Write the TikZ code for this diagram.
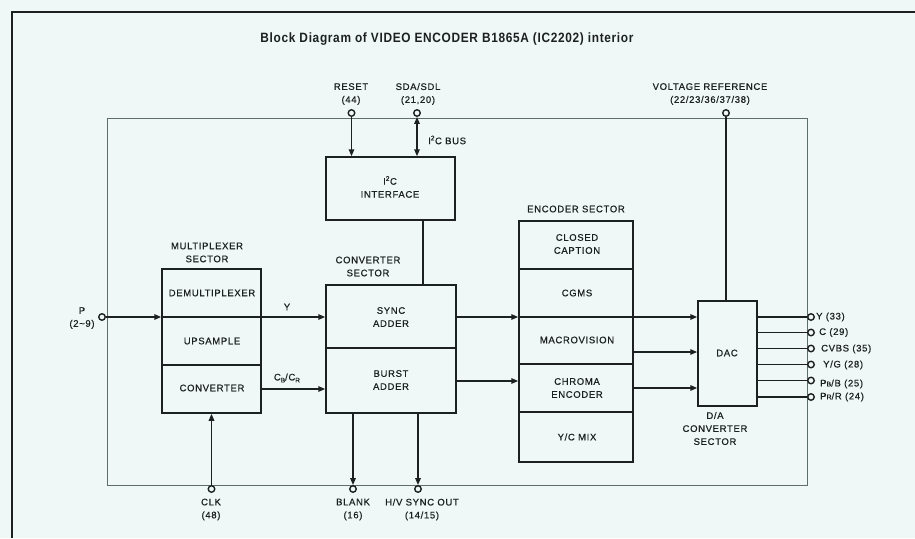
\documentclass[tikz,border=0pt]{standalone}
\usepackage{fontspec}
\setmainfont{Liberation Sans}
\newfontfamily\labf[LetterSpace=7,FakeBold=0.6]{Liberation Sans}
\newfontfamily\titf[LetterSpace=5,FakeStretch=0.88]{Liberation Sans}
\usetikzlibrary{arrows.meta,calc}
\definecolor{ink}{HTML}{1C2020}
\definecolor{bg}{HTML}{F0F8F7}
\definecolor{frm}{HTML}{5E6E6A}
\begin{document}
\begin{tikzpicture}[x=1pt,y=-1pt,
  lab/.style={font=\labf\fontsize{9.5}{13}\selectfont, text=ink, align=center, inner sep=0pt},
  box/.style={rectangle, draw=ink, line width=1.5pt, inner sep=0pt},
  pin/.style={circle, draw=ink, fill=bg, line width=1.4pt, minimum size=6.5pt, inner sep=0pt},
  conn/.style={draw=ink, line width=1.5pt},
  arr/.style={conn, -{Triangle[length=7pt,width=5.5pt]}},
  barr/.style={conn, {Triangle[length=7pt,width=5.5pt]}-{Triangle[length=7pt,width=5.5pt]}}]

\fill[bg] (0,0) rectangle (915,538);
\useasboundingbox (0,0) rectangle (915,538);

% frames
\draw[ink, line width=1.6pt] (12,538) -- (12,12) -- (915,12);
\draw[frm, line width=0.7pt] (107,118) rectangle (807,485);

% title
\node[font=\titf\bfseries\fontsize{13.5}{16}\selectfont, text=ink, inner sep=0pt] (title) at (447,39)
  {Block Diagram of VIDEO ENCODER B1865A (IC2202) interior};

% boxes
\node[box, minimum width=99pt, minimum height=144pt] (mux) at (211.5,341) {};
\node[box, minimum width=130pt, minimum height=128pt] (conv) at (391,349) {};
\node[box, minimum width=129pt, minimum height=63pt] (i2c) at (390.5,188.5) {};
\node[box, minimum width=114pt, minimum height=241pt] (enc) at (576,341.5) {};
\node[box, minimum width=59pt, minimum height=105pt] (dac) at (727.5,353.5) {};

% level coordinates
\coordinate (yY) at (0,317);
\coordinate (yC) at (0,389);
\coordinate (yB) at (0,381);
\coordinate (yE2) at (0,352);
\coordinate (yE3) at (0,388);
\coordinate (xI) at (423,0);
\coordinate (dm) at (0,365);
\coordinate (dc) at (0,348);
\coordinate (de1) at (0,269);
\coordinate (de2) at (0,364);
\coordinate (de3) at (0,412);

% dividers
\draw[conn] (mux.west |- dm) -- (mux.east |- dm);
\draw[conn] (conv.west |- dc) -- (conv.east |- dc);
\draw[conn] (enc.west |- de1) -- (enc.east |- de1);
\draw[conn] (enc.west |- de2) -- (enc.east |- de2);
\draw[conn] (enc.west |- de3) -- (enc.east |- de3);

% pins
\node[pin] (pP) at (102,317) {};
\node[pin] (pRST) at (351.5,113) {};
\node[pin] (pSDA) at (417,113) {};
\node[pin] (pVR) at (726,113) {};
\node[pin] (pCLK) at (211.5,489) {};
\node[pin] (pBLK) at (353,489) {};
\node[pin] (pHV) at (418,489) {};
\node[pin] (o1) at (811,317) {};
\node[pin] (o2) at (811,332.5) {};
\node[pin] (o3) at (811,348.5) {};
\node[pin] (o4) at (811,364.5) {};
\node[pin] (o5) at (811,380.5) {};
\node[pin] (o6) at (811,397) {};

% connectors
\draw[arr] (pP.east) -- (mux.west |- pP);
\draw[arr] (mux.west |- pP) -- (conv.west |- pP);
\draw[arr] (mux.east |- yC) -- (conv.west |- yC);
\draw[arr] (conv.east |- yY) -- (enc.west |- yY);
\draw[arr] (enc.west |- yY) -- (dac.west |- yY);
\draw[arr] (conv.east |- yB) -- (enc.west |- yB);
\draw[arr] (enc.east |- yE2) -- (dac.west |- yE2);
\draw[arr] (enc.east |- yE3) -- (dac.west |- yE3);
\draw[arr] (pCLK.north) -- (mux.south -| pCLK);
\draw[arr] (conv.south -| pBLK) -- (pBLK.north);
\draw[arr] (conv.south -| pHV) -- (pHV.north);
\draw[arr] (pRST.south) -- (i2c.north -| pRST);
\draw[barr] (pSDA.south) -- (i2c.north -| pSDA);
\draw[conn] (i2c.south -| xI) -- (conv.north -| xI);
\draw[conn] (pVR.south) -- (dac.north -| pVR);
\foreach \o in {o1,o2,o3,o4,o5,o6}
  \draw[conn] (dac.east |- \o) -- (\o.west);

% pin labels
\node[lab] (lRST) at (351,94) {RESET\\(44)};
\node[lab] (lSDA) at (418,94) {SDA/SDL\\(21,20)};
\node[lab] (lVR) at (710,94) {VOLTAGE REFERENCE\\(22/23/36/37/38)};
\node[lab, anchor=west] (lBUS) at (428,140) {I\textsuperscript{2}C BUS};
\node[lab] (lP) at (82,318) {P\\(2\textasciitilde9)};
\node[lab] (lCLK) at (211,509.5) {CLK\\(48)};
\node[lab] (lBLK) at (353,509.5) {BLANK\\(16)};
\node[lab] (lHV) at (422,509.5) {H/V SYNC OUT\\(14/15)};

% section labels
\node[lab] (sMUX) at (207,252.5) {MULTIPLEXER\\SECTOR};
\node[lab] (sCONV) at (368,266.5) {CONVERTER\\SECTOR};
\node[lab] (sENC) at (576,209) {ENCODER SECTOR};
\node[lab] (sDAC) at (715,428.5) {D/A\\CONVERTER\\SECTOR};

% box texts
\node[lab] at (390,187) {I\textsuperscript{2}C\\INTERFACE};
\node[lab] at (212,293) {DEMULTIPLEXER};
\node[lab] at (212,341) {UPSAMPLE};
\node[lab] at (212,388) {CONVERTER};
\node[lab] at (391,317) {SYNC\\ADDER};
\node[lab] at (391,380) {BURST\\ADDER};
\node[lab] at (577,244) {CLOSED\\CAPTION};
\node[lab] at (577,293) {CGMS};
\node[lab] at (577,340) {MACROVISION};
\node[lab] at (577,388) {CHROMA\\ENCODER};
\node[lab] at (577,437) {Y/C MIX};
\node[lab] at (727,353) {DAC};

% signal labels
\node[lab] (lY) at (287,307) {Y};
\node[lab] (lCB) at (287,378) {C\raisebox{-2pt}{\fontsize{6.5}{7}\selectfont B}/C\raisebox{-2pt}{\fontsize{6.5}{7}\selectfont R}};

% output labels
\node[lab, anchor=west] at (816,317) {Y (33)};
\node[lab, anchor=west] at (819,332.5) {C (29)};
\node[lab, anchor=west] at (821,349) {CVBS (35)};
\node[lab, anchor=west] at (823,365) {Y/G (28)};
\node[lab, anchor=west] at (820,384) {P{\fontsize{7}{7}\selectfont B}/B (25)};
\node[lab, anchor=west] at (820,397) {P{\fontsize{7}{7}\selectfont R}/R (24)};
\end{tikzpicture}
\end{document}
